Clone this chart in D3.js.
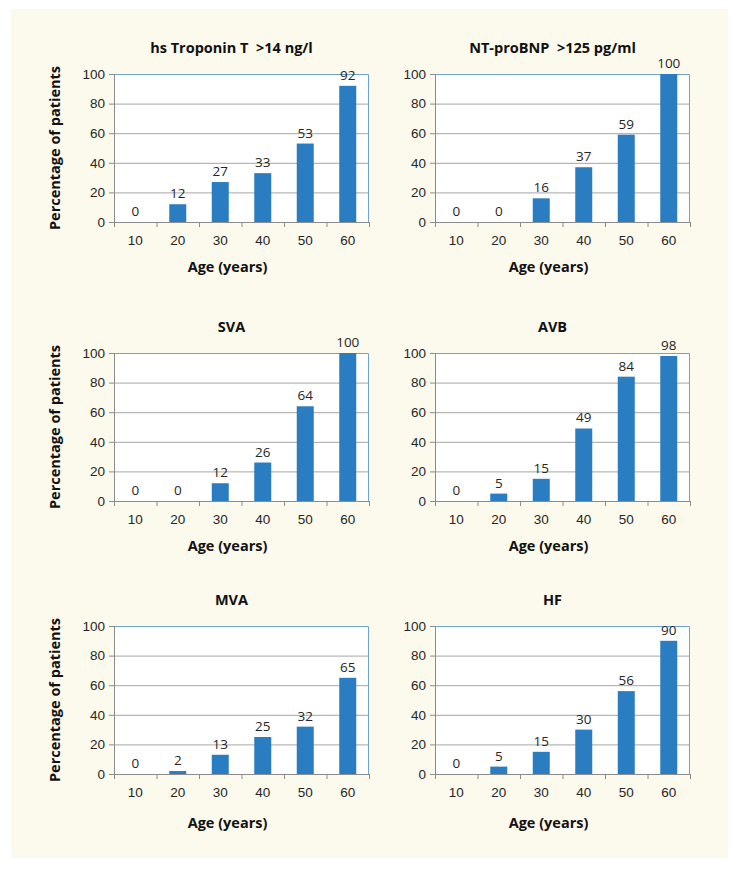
<!DOCTYPE html>
<html>
<head>
    <meta charset="UTF-8">
    <title>Percentage of patients by age</title>
    <style>
        body { margin: 0; background: #fff; }
        svg { display: block; font-family: "Open Sans", "DejaVu Sans", sans-serif; }
        .grid line { stroke: #a6a6a6; stroke-width: 1; }
        .tick text { fill: #262626; font-size: 13.5px; }
        .bar { fill: #2a7dc0; }
        .lbl { fill: #262626; font-size: 13.5px; text-anchor: middle; }
        .ttl { fill: #111; font-size: 14.5px; font-weight: bold; text-anchor: middle; white-space: pre; }
    </style>
</head>
<body>
<script src="https://cdn.jsdelivr.net/npm/d3@7"></script>
<script>
    // data
    var ages = ["10", "20", "30", "40", "50", "60"];
    var yTicks = [0, 20, 40, 60, 80, 100];
    var titles = ["hs Troponin T  >14 ng/l", "NT-proBNP  >125 pg/ml", "SVA", "AVB", "MVA", "HF"];
    var troponin = [0, 12, 27, 33, 53, 92];
    var ntprobnp = [0, 0, 16, 37, 59, 100];
    var sva = [0, 0, 12, 26, 64, 100];
    var avb = [0, 5, 15, 49, 84, 98];
    var mva = [0, 2, 13, 25, 32, 65];
    var hf = [0, 5, 15, 30, 56, 90];
    var series = [troponin, ntprobnp, sva, avb, mva, hf];

    var W = 737, H = 873;
    var colX = [114, 435];        // plot left edge per column
    var rowY = [74, 353, 626];    // plot top edge per row
    var pw = 255, ph = 148;

    var svg = d3.select("body").append("svg")
        .attr("width", W)
        .attr("height", H);

    // cream panel behind everything
    svg.append("rect")
        .attr("x", 11).attr("y", 9)
        .attr("width", 717).attr("height", 849)
        .attr("fill", "#fcf9ed");

    var x = d3.scaleBand().domain(ages).range([0, pw]).paddingInner(0.6).paddingOuter(0.3);
    var band = d3.scaleBand().domain(ages).range([0, pw]);
    var y = d3.scaleLinear().domain([0, 100]).range([ph, 0]);

    series.forEach(function (vals, k) {
        var col = k % 2, row = Math.floor(k / 2);
        var g = svg.append("g")
            .attr("transform", "translate(" + colX[col] + "," + rowY[row] + ")");

        // plot area
        g.append("rect")
            .attr("width", pw).attr("height", ph)
            .attr("fill", "#fff");

        // gridlines
        g.append("g").attr("class", "grid")
            .selectAll("line")
            .data(yTicks.slice(1, -1))
            .enter().append("line")
            .attr("x1", 0).attr("x2", pw)
            .attr("y1", function (d) { return y(d) + 0.5; })
            .attr("y2", function (d) { return y(d) + 0.5; });

        // top and right border (blue)
        g.append("path")
            .attr("d", "M0,0.5H" + (pw - 0.5) + "V" + ph)
            .attr("fill", "none")
            .attr("stroke", "#6fa3d2")
            .attr("stroke-width", 1);

        // bars
        g.selectAll(".bar")
            .data(vals)
            .enter().append("rect")
            .attr("class", "bar")
            .attr("x", function (d, i) { return x(ages[i]); })
            .attr("width", x.bandwidth())
            .attr("y", function (d) { return y(d); })
            .attr("height", function (d) { return ph - y(d); });

        // value labels
        g.selectAll(".lbl")
            .data(vals)
            .enter().append("text")
            .attr("class", "lbl")
            .attr("x", function (d, i) { return x(ages[i]) + x.bandwidth() / 2; })
            .attr("y", function (d) { return y(d) - 6; })
            .text(function (d) { return d; });

        // y axis
        var ya = g.append("g")
            .call(d3.axisLeft(y).tickValues(yTicks).tickSize(5).tickPadding(4));
        ya.select(".domain").attr("stroke", "#8c8c8c").attr("d", "M-5,0.5H0.5V" + ph);
        ya.selectAll(".tick line").attr("stroke", "#8c8c8c");

        // x axis: ticks sit on band edges
        var xa = g.append("g")
            .attr("transform", "translate(0," + ph + ")")
            .call(d3.axisBottom(band).tickSize(0).tickPadding(13));
        xa.select(".domain").attr("stroke", "#8c8c8c");
        xa.selectAll(".edge")
            .data(d3.range(ages.length + 1))
            .enter().append("line")
            .attr("class", "edge")
            .attr("x1", function (i) { return i * band.step() + 0.5; })
            .attr("x2", function (i) { return i * band.step() + 0.5; })
            .attr("y1", 0).attr("y2", 5)
            .attr("stroke", "#8c8c8c");

        // chart title
        g.append("text")
            .attr("class", "ttl")
            .attr("x", pw / 2 - 10)
            .attr("y", -21)
            .text(titles[k]);

        // x title
        g.append("text")
            .attr("class", "ttl")
            .attr("x", pw / 2 - 14)
            .attr("y", ph + (row === 2 ? 54 : 50))
            .text("Age (years)");

        // y title on the left column only
        if (col === 0) {
            g.append("text")
                .attr("class", "ttl")
                .attr("transform", "translate(" + (55 - colX[0] + 5) + "," + (ph / 2) + ") rotate(-90)")
                .text("Percentage of patients");
        }
    });
</script>
</body>
</html>
